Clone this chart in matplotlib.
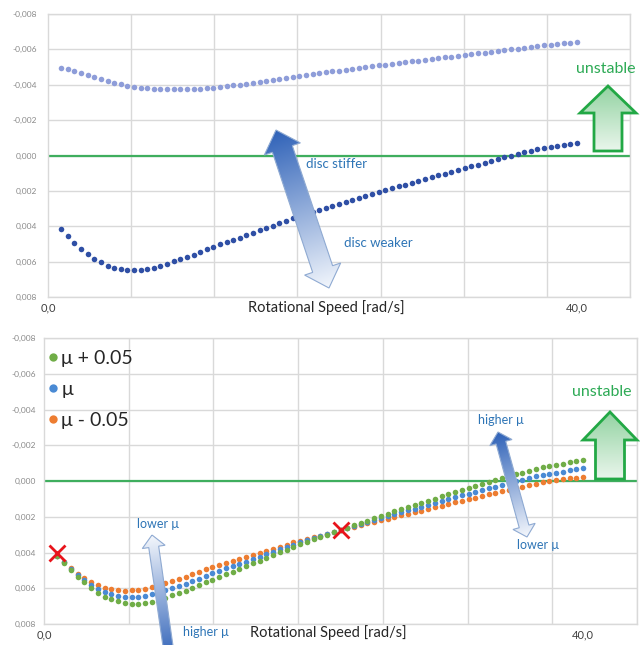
import numpy as np
import matplotlib
matplotlib.use("Agg")
import matplotlib.pyplot as plt
from matplotlib.patches import Polygon
from matplotlib.lines import Line2D
from matplotlib.colors import to_rgb

plt.rcParams['font.family'] = ['Lato', 'DejaVu Sans']

# ---------------------------------------------------------------- data
speed = np.arange(1.0, 40.01, 0.5)          # rotational speed grid [rad/s]

# upper panel: two modes, real part of eigenvalue
upper_mode = [
    -0.00493, -0.00489, -0.00479, -0.00468, -0.00455, -0.00442, -0.00431, -0.00421, -0.00412, -0.00403,
    -0.00395, -0.00389, -0.00383, -0.00380, -0.00376, -0.00374, -0.00374, -0.00374, -0.00374, -0.00374,
    -0.00376, -0.00378, -0.00382, -0.00384, -0.00387, -0.00391, -0.00396, -0.00401, -0.00407, -0.00412,
    -0.00417, -0.00423, -0.00428, -0.00433, -0.00438, -0.00444, -0.00449, -0.00454, -0.00460, -0.00465,
    -0.00470, -0.00475, -0.00480, -0.00485, -0.00490, -0.00495, -0.00500, -0.00505, -0.00510, -0.00514,
    -0.00519, -0.00523, -0.00528, -0.00532, -0.00537, -0.00541, -0.00546, -0.00550, -0.00555, -0.00559,
    -0.00564, -0.00568, -0.00573, -0.00577, -0.00582, -0.00586, -0.00591, -0.00595, -0.00600, -0.00604,
    -0.00609, -0.00613, -0.00618, -0.00622, -0.00626, -0.00630, -0.00634, -0.00638, -0.00643,
]
critical_mode = [
    0.00417, 0.00455, 0.00493, 0.00527, 0.00555, 0.00583, 0.00604, 0.00623, 0.00634, 0.00642,
    0.00649, 0.00649, 0.00647, 0.00643, 0.00634, 0.00623, 0.00612, 0.00598, 0.00587, 0.00574,
    0.00561, 0.00546, 0.00530, 0.00517, 0.00502, 0.00489, 0.00478, 0.00464, 0.00451, 0.00437,
    0.00424, 0.00410, 0.00397, 0.00383, 0.00370, 0.00356, 0.00343, 0.00332, 0.00320, 0.00309,
    0.00297, 0.00286, 0.00275, 0.00263, 0.00252, 0.00240, 0.00229, 0.00218, 0.00206, 0.00196,
    0.00185, 0.00175, 0.00164, 0.00154, 0.00144, 0.00133, 0.00123, 0.00112, 0.00102, 0.00092,
    0.00081, 0.00071, 0.00061, 0.00051, 0.00041, 0.00031, 0.00021, 0.00011, 0.00001, -0.00008,
    -0.00017, -0.00026, -0.00035, -0.00041, -0.00047, -0.00053, -0.00059, -0.00065, -0.00071,
]

# lower panel: friction coefficient variation
mu_plus = [
    0.00417, 0.00457, 0.00498, 0.00535, 0.00567, 0.00599, 0.00624, 0.00647, 0.00662, 0.00673,
    0.00683, 0.00686, 0.00686, 0.00683, 0.00675, 0.00664, 0.00653, 0.00638, 0.00627, 0.00613,
    0.00599, 0.00583, 0.00566, 0.00552, 0.00535, 0.00520, 0.00508, 0.00492, 0.00477, 0.00461,
    0.00446, 0.00430, 0.00415, 0.00399, 0.00384, 0.00368, 0.00353, 0.00340, 0.00326, 0.00313,
    0.00300, 0.00287, 0.00275, 0.00261, 0.00248, 0.00234, 0.00221, 0.00208, 0.00194, 0.00182,
    0.00169, 0.00158, 0.00145, 0.00134, 0.00122, 0.00110, 0.00098, 0.00086, 0.00075, 0.00064,
    0.00051, 0.00040, 0.00029, 0.00018, 0.00007, -0.00004, -0.00015, -0.00026, -0.00037, -0.00047,
    -0.00057, -0.00067, -0.00077, -0.00084, -0.00091, -0.00097, -0.00104, -0.00111, -0.00118,
]
mu_nominal = critical_mode
mu_minus = [
    0.00417, 0.00453, 0.00488, 0.00519, 0.00543, 0.00567, 0.00584, 0.00599, 0.00606, 0.00611,
    0.00615, 0.00612, 0.00608, 0.00603, 0.00593, 0.00582, 0.00571, 0.00558, 0.00547, 0.00535,
    0.00523, 0.00509, 0.00494, 0.00482, 0.00469, 0.00458, 0.00448, 0.00436, 0.00425, 0.00413,
    0.00402, 0.00390, 0.00379, 0.00367, 0.00356, 0.00344, 0.00333, 0.00324, 0.00314, 0.00305,
    0.00294, 0.00285, 0.00275, 0.00265, 0.00256, 0.00246, 0.00237, 0.00228, 0.00218, 0.00210,
    0.00201, 0.00192, 0.00183, 0.00174, 0.00166, 0.00156, 0.00148, 0.00138, 0.00129, 0.00120,
    0.00111, 0.00102, 0.00093, 0.00084, 0.00075, 0.00066, 0.00057, 0.00048, 0.00039, 0.00031,
    0.00023, 0.00015, 0.00007, 0.00002, -0.00003, -0.00009, -0.00014, -0.00019, -0.00024,
]
# points where the three friction curves coincide
cross_speed = [1.0, 22.0]
cross_value = [0.0040, 0.00272]

legend_labels = ["\u03bc + 0.05", "\u03bc", "\u03bc - 0.05"]
y_ticks = [-0.008, -0.006, -0.004, -0.002, 0.0, 0.002, 0.004, 0.006, 0.008]
x_tick_vals = [0.0, 40.0]
x_tick_labels = ["0,0", "40,0"]

# ---------------------------------------------------------------- style
GRID = "#D9D9D9"
ZERO_GREEN = "#3FAE5E"
DARK_BLUE = "#2F4FA5"
LIGHT_BLUE = "#8E9DD9"
C_PLUS = "#70AD47"
C_NOM = "#4A8AD4"
C_MINUS = "#ED7D31"
TXT_BLUE = "#2E75B6"

W, H = 640, 645
fig = plt.figure(figsize=(W / 100, H / 100), dpi=100)
fig.patch.set_facecolor("white")


def px_axes(left, top, right, bottom):
    return fig.add_axes([left / W, 1 - bottom / H, (right - left) / W, (bottom - top) / H])


def style_axes(ax, ypad):
    ax.set_xlim(0, 44)
    ax.set_ylim(0.008, -0.008)
    ax.set_yticks(y_ticks)
    ax.set_yticklabels([f"{v:.3f}".replace(".", ",").replace("-0,000", "0,000") for v in y_ticks])
    ax.set_xticks(x_tick_vals)
    ax.set_xticklabels(x_tick_labels)
    ax.set_xticks(np.linspace(0, 44, 8), minor=True)
    ax.tick_params(axis="y", length=0, pad=ypad, labelsize=6, labelcolor="#8A8A8A")
    ax.tick_params(axis="x", which="both", length=0, pad=4, labelsize=8, labelcolor="#404040")
    ax.grid(axis="y", which="major", color=GRID, lw=1.0)
    ax.grid(axis="x", which="minor", color=GRID, lw=1.0)
    ax.grid(axis="x", which="major", visible=False)
    for s in ax.spines.values():
        s.set_color(GRID)
        s.set_linewidth(1.0)
    ax.axhline(0.0, color=ZERO_GREEN, lw=1.6, zorder=2)
    ax.set_axisbelow(True)


MS = 4.0

# upper panel
ax1 = px_axes(48, 14, 630, 297)
style_axes(ax1, 8)
ax1.plot(speed, upper_mode, "o", ms=MS, mew=0, color=LIGHT_BLUE, zorder=3)
ax1.plot(speed, critical_mode, "o", ms=MS, mew=0, color=DARK_BLUE, zorder=3)
ax1.text(0.478, -0.036, "Rotational Speed [rad/s]", transform=ax1.transAxes,
         ha="center", va="center", fontsize=10.5, color="#262626")

# lower panel
ax2 = px_axes(44, 338, 637, 624)
style_axes(ax2, 6)
ax2.plot(speed, mu_minus, "o", ms=MS, mew=0, color=C_MINUS, zorder=3)
ax2.plot(speed, mu_nominal, "o", ms=MS, mew=0, color=C_NOM, zorder=3)
ax2.plot(speed, mu_plus, "o", ms=MS, mew=0, color=C_PLUS, zorder=3)
ax2.plot(cross_speed, cross_value, "x", ms=12, mew=2.0, color="#E8141B", zorder=4)
ax2.text(0.479, -0.031, "Rotational Speed [rad/s]", transform=ax2.transAxes,
         ha="center", va="center", fontsize=10.5, color="#262626")
handles = [Line2D([], [], ls="", marker="o", ms=6, mew=0, color=c) for c in (C_PLUS, C_NOM, C_MINUS)]
ax2.legend(handles, legend_labels, loc="upper left", bbox_to_anchor=(-0.005, 0.985),
           frameon=False, fontsize=14, handlelength=0.4, handletextpad=0.25,
           labelspacing=0.72, borderaxespad=0.2, borderpad=0.2, labelcolor="#262626")

# ---------------------------------------------------------------- annotation overlay (pixel coords)
ov = fig.add_axes([0, 0, 1, 1], zorder=10)
ov.set_xlim(0, W)
ov.set_ylim(H, 0)
ov.axis("off")
ov.patch.set_alpha(0)


def gradient_fill(poly, p_start, p_end, c_start, c_end, z):
    verts = np.asarray(poly.get_xy())
    x0, y0 = verts.min(axis=0) - 2
    x1, y1 = verts.max(axis=0) + 2
    nx, ny = int(x1 - x0) * 2, int(y1 - y0) * 2
    gx, gy = np.meshgrid(np.linspace(x0, x1, nx), np.linspace(y0, y1, ny))
    d = np.asarray(p_end, float) - np.asarray(p_start, float)
    t = ((gx - p_start[0]) * d[0] + (gy - p_start[1]) * d[1]) / (d @ d)
    t = np.clip(t, 0, 1)[..., None]
    img = (1 - t) * np.array(to_rgb(c_start)) + t * np.array(to_rgb(c_end))
    im = ov.imshow(img, extent=(x0, x1, y1, y0), origin="upper", aspect="auto",
                   zorder=z, interpolation="bilinear")
    im.set_clip_path(poly)


def double_arrow(p0, p1, sw, hw, hl, c0, c1, edge, z=11):
    p0 = np.asarray(p0, float)
    p1 = np.asarray(p1, float)
    u = (p1 - p0) / np.linalg.norm(p1 - p0)
    n = np.array([-u[1], u[0]])
    a, b = p0 + hl * u, p1 - hl * u
    verts = [p0, a + hw * n, a + sw * n, b + sw * n, b + hw * n, p1,
             b - hw * n, b - sw * n, a - sw * n, a - hw * n]
    poly = Polygon(verts, closed=True, facecolor="none", edgecolor=edge, lw=0.8, zorder=z + 1)
    ov.add_patch(poly)
    gradient_fill(poly, p0, p1, c0, c1, z)


def up_arrow(cx, tip, head_base, bottom, hw, sw, z=11):
    verts = [(cx, tip), (cx + hw, head_base), (cx + sw, head_base), (cx + sw, bottom),
             (cx - sw, bottom), (cx - sw, head_base), (cx - hw, head_base)]
    poly = Polygon(verts, closed=True, facecolor="none", edgecolor="#22A845", lw=2.0,
                   joinstyle="miter", zorder=z + 1)
    ov.add_patch(poly)
    gradient_fill(poly, (cx, tip), (cx, bottom), "#93D3A2", "#EAF6EC", z)


# upper panel arrows and labels
double_arrow((276, 130), (329, 288), 10.5, 19, 20, "#2F62B8", "#F2F6FC", "#8FAAD2")
ov.text(337, 164, "disc stiffer", color=TXT_BLUE, fontsize=9.5, ha="center", va="center")
ov.text(378, 243, "disc weaker", color=TXT_BLUE, fontsize=9.5, ha="center", va="center")
up_arrow(608, 86, 113, 151, 28, 14)
ov.text(606, 69, "unstable", color="#2DAA55", fontsize=11.5, ha="center", va="center")

# lower panel arrows and labels
double_arrow((152, 535), (170, 660), 5, 11.5, 12, "#F4F7FC", "#2F62B8", "#8FAAD2")
ov.text(158, 524, "lower \u03bc", color=TXT_BLUE, fontsize=9, ha="center", va="center")
ov.text(206, 632, "higher \u03bc", color=TXT_BLUE, fontsize=9, ha="center", va="center")
double_arrow((498, 432), (527, 537), 5, 11.5, 11, "#2F62B8", "#F4F7FC", "#8FAAD2")
ov.text(501, 420, "higher \u03bc", color=TXT_BLUE, fontsize=9, ha="center", va="center")
ov.text(538, 545, "lower \u03bc", color=TXT_BLUE, fontsize=9, ha="center", va="center")
up_arrow(610, 412, 440, 479, 27, 14.5)
ov.text(602, 392, "unstable", color="#2DAA55", fontsize=11.5, ha="center", va="center")

fig.savefig("out.png", dpi=100, facecolor="white")
